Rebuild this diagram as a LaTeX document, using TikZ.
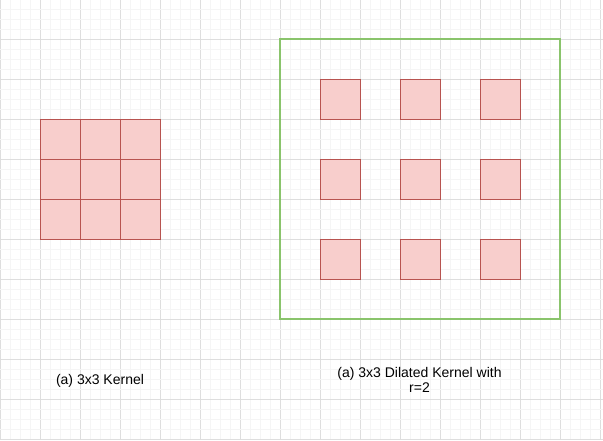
\documentclass[tikz,border=0pt]{standalone}
\usepackage{fontspec}
\setmainfont{Liberation Sans}
\definecolor{minorgrid}{HTML}{F5F5F5}
\definecolor{majorgrid}{HTML}{DEDEDE}
\definecolor{cellfill}{HTML}{F8CECC}
\definecolor{cellline}{HTML}{B85450}
\definecolor{framegreen}{HTML}{8AC46C}
\tikzset{
  cell/.style={draw=cellline, fill=cellfill, line width=1pt, minimum size=40pt, inner sep=0pt, outer sep=0pt},
  frame/.style={draw=framegreen, line width=2pt, minimum size=280pt, inner sep=0pt, outer sep=0pt},
  caption/.style={font=\fontsize{14}{15}\selectfont, align=center, inner sep=0pt, text=black},
}
\begin{document}
\begin{tikzpicture}[x=1pt,y=-1pt]
\useasboundingbox (0,0) rectangle (603,440);
\fill[white] (0,0) rectangle (603,440);
% grid
\foreach \i in {0,...,60} {
  \pgfmathtruncatemacro{\xx}{10*\i}
  \pgfmathtruncatemacro{\m}{mod(\i,4)}
  \ifnum\m=0
    \draw[majorgrid, line width=1pt] (\xx,0) -- (\xx,440);
  \else
    \draw[minorgrid, line width=1pt] (\xx,0) -- (\xx,440);
  \fi
}
\foreach \i in {1,...,44} {
  \pgfmathsetmacro{\yy}{10*\i-0.7}
  \pgfmathtruncatemacro{\m}{mod(\i,4)}
  \ifnum\m=0
    \draw[majorgrid, line width=1pt] (0,\yy) -- (603,\yy);
  \else
    \draw[minorgrid, line width=1pt] (0,\yy) -- (603,\yy);
  \fi
}
% left 3x3 kernel
\node[cell] (a11) at (60,139.3) {};
\node[cell] (a12) at (100,139.3) {};
\node[cell] (a13) at (140,139.3) {};
\node[cell] (a21) at (60,179.3) {};
\node[cell] (a22) at (100,179.3) {};
\node[cell] (a23) at (140,179.3) {};
\node[cell] (a31) at (60,219.3) {};
\node[cell] (a32) at (100,219.3) {};
\node[cell] (a33) at (140,219.3) {};
% dilated kernel
\node[frame] (fr) at (420,179.3) {};
\node[cell] (b11) at (340,99.3) {};
\node[cell] (b12) at (420,99.3) {};
\node[cell] (b13) at (500,99.3) {};
\node[cell] (b21) at (340,179.3) {};
\node[cell] (b22) at (420,179.3) {};
\node[cell] (b23) at (500,179.3) {};
\node[cell] (b31) at (340,259.3) {};
\node[cell] (b32) at (420,259.3) {};
\node[cell] (b33) at (500,259.3) {};
% captions
\node[caption, anchor=base] (capa) at (100,384.3) {(a) 3x3 Kernel};
\node[caption, anchor=base] (capb) at (419.5,392.3) {(a) 3x3 Dilated Kernel with\\r=2};
\end{tikzpicture}
\end{document}
